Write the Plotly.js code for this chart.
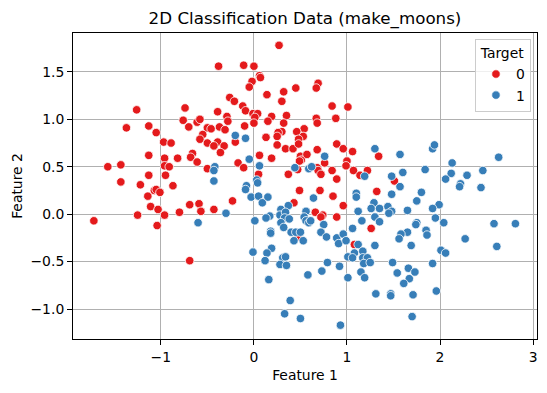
<!DOCTYPE html>
<html>
<head>
<meta charset="utf-8">
<script src="https://cdn.plot.ly/plotly-3.0.1.min.js"></script>
<style>html,body{margin:0;padding:0;background:#fff;}#chart{width:547px;height:393px;}</style>
</head>
<body>
<div id="chart"></div>
<script>
// Target 0 (red)
var class0_x = [-0.38,-0.26,-1.26,-0.74,-0.39,-0.29,-1.37,-1.13,-1.05,-0.76,-0.70,-0.61,-0.58,-0.50,-0.46,-0.37,-0.31,-0.28,-0.55,-0.58,-0.97,-0.89,-0.50,-0.39,-0.32,
0.27,-0.11,0.00,0.06,0.07,-0.02,-0.05,0.69,0.67,0.45,0.32,0.14,0.30,-0.21,0.84,1.01,-0.12,-0.09,-0.01,0.04,0.01,0.19,0.35,0.15,0.32,0.00,-0.10,0.67,0.68,0.88,0.54,0.46,0.53,0.48,0.30,0.26,0.25,0.13,-0.20,0.89,
-0.43,-0.36,-0.66,-0.68,-0.61,-0.82,-0.96,-1.13,-0.96,-0.91,-1.57,-1.43,-0.50,-1.43,-1.13,-0.95,-1.22,-0.87,-1.07,-1.05,-1.01,-1.14,-1.11,-1.03,-0.69,-0.59,-0.57,-0.43,-1.25,-0.96,-0.80,-1.72,-1.04,-0.69,
0.25,0.34,0.42,0.48,0.68,0.96,1.06,1.34,0.06,0.19,0.50,0.51,0.49,0.57,0.76,1.00,0.99,-0.17,-0.11,0.47,0.68,0.69,0.72,0.84,0.89,1.07,1.14,1.22,0.05,0.37,0.49,0.71,0.85,1.32,-0.23,0.43,0.96,0.66,0.74,0.72,0.89,1.26,0.47,1.08,1.51];
var class0_y = [1.56,1.23,1.10,1.12,1.08,1.03,0.91,0.93,0.86,0.99,0.92,0.97,1.00,0.91,0.90,0.92,0.89,0.98,0.84,0.79,0.76,0.75,0.75,0.76,0.72,
1.78,1.57,1.56,1.46,1.44,1.40,1.34,1.38,1.33,1.33,1.29,1.26,1.19,1.19,1.14,1.13,1.14,1.09,1.06,1.06,1.02,1.03,1.04,0.98,0.96,0.96,0.93,1.01,0.96,1.01,0.90,0.87,0.82,0.79,0.87,0.86,0.82,0.81,0.76,0.74,
0.72,0.65,0.64,0.60,0.55,0.59,0.59,0.62,0.51,0.50,0.50,0.52,0.48,0.34,0.41,0.41,0.31,0.30,0.25,0.26,0.23,0.19,0.08,0.05,0.10,0.11,0.03,0.05,-0.01,-0.01,0.02,-0.07,-0.12,-0.49,
0.73,0.69,0.69,0.74,0.68,0.69,0.66,0.61,0.62,0.59,0.61,0.57,0.56,0.63,0.54,0.56,0.51,0.54,0.49,0.47,0.49,0.46,0.42,0.46,0.37,0.46,0.41,0.46,0.42,0.42,0.25,0.25,0.19,0.24,0.14,0.12,0.09,0.02,-0.01,-0.03,-0.03,-0.15,-0.24,-0.32,0.35];
// Target 1 (blue)
var class1_x = [-0.20,-0.09,-0.42,-0.43,-0.43,-0.30,-0.60,1.30,-0.05,0.76,0.06,0.44,0.59,0.62,1.19,0.03,0.04,-0.08,-0.09,0.64,1.10,1.10,-0.03,0.05,0.15,0.09,0.37,0.29,1.29,1.26,1.35,0.56,0.17,0.13,0.28,0.34,0.33,0.38,0.54,0.56,1.30,0.01,0.29,0.59,0.61,1.16,1.35,0.32,0.75,1.12,0.18,0.18,0.40,0.45,0.50,0.43,0.53,0.72,0.78,0.89,0.96,0.91,0.99,1.06,1.12,1.30,0.19,
-0.01,0.14,0.12,0.31,0.34,0.28,0.35,0.16,0.58,0.73,0.79,0.92,1.01,1.08,1.17,1.06,1.17,1.22,1.18,1.25,1.15,1.19,1.01,1.31,0.39,0.33,0.50,0.93,
1.57,1.92,1.94,2.63,2.13,1.84,1.60,1.48,1.57,2.12,2.06,2.29,2.46,2.22,2.21,2.44,1.48,1.80,1.75,1.99,1.92,1.65,1.44,1.48,1.45,1.95,2.04,1.75,1.74,2.58,2.81,1.65,1.58,1.56,1.85,1.86,1.69,2.27,2.61,2.01,
2.06,1.49,1.92,1.54,1.66,1.73,1.67,1.61,1.96,1.47,1.47,1.71,1.70];
var class1_y = [0.83,0.80,0.50,0.46,0.35,0.01,-0.09,0.69,0.58,0.61,0.51,0.49,0.48,0.50,0.40,0.36,0.33,0.30,0.26,0.17,0.22,0.18,0.18,0.19,0.18,0.12,0.09,0.05,0.12,0.06,0.06,0.03,-0.02,-0.04,-0.01,0.02,-0.04,-0.05,-0.03,-0.07,-0.03,-0.07,-0.09,-0.09,-0.07,-0.07,-0.08,-0.14,-0.11,0.03,-0.18,-0.20,-0.19,-0.19,-0.19,-0.28,-0.28,-0.19,-0.24,-0.25,-0.21,-0.31,-0.28,-0.15,-0.32,-0.33,-0.36,
-0.40,-0.41,-0.49,-0.46,-0.45,-0.53,-0.54,-0.69,-0.64,-0.60,-0.51,-0.55,-0.45,-0.41,-0.39,-0.46,-0.46,-0.46,-0.52,-0.51,-0.61,-0.67,-0.67,-0.84,-0.91,-1.05,-1.10,-1.17,
0.63,0.69,0.73,0.60,0.54,0.47,0.44,0.40,0.29,0.43,0.37,0.41,0.46,0.32,0.29,0.28,0.21,0.23,0.14,0.10,0.06,0.04,0.08,0.03,0.01,-0.04,-0.09,-0.09,-0.11,-0.10,-0.10,-0.19,-0.21,-0.26,-0.17,-0.22,-0.33,-0.26,-0.34,-0.38,
-0.41,-0.51,-0.52,-0.62,-0.57,-0.61,-0.68,-0.73,-0.81,-0.84,-0.86,-0.85,-1.08];
var series_names = ["0", "1"];
var legend_title = "Target";
var chart_title = "2D Classification Data (make_moons)";
var x_label = "Feature 1";
var y_label = "Feature 2";
var x_ticks = [-1, 0, 1, 2, 3];
var y_ticks = [-1.0, -0.5, 0.0, 0.5, 1.0, 1.5];

var font = "DejaVu Sans, sans-serif";
var mk = function(color){ return {color: color, size: 8.5, line: {color: "#ffffff", width: 0.8}}; };
var traces = [
  {x: class0_x, y: class0_y, type: "scatter", mode: "markers", name: series_names[0], marker: mk("#e41a1c"), cliponaxis: true},
  {x: class1_x, y: class1_y, type: "scatter", mode: "markers", name: series_names[1], marker: mk("#377eb8"), cliponaxis: true}
];
var axisCommon = {
  showgrid: true, gridcolor: "#b0b0b0", gridwidth: 1, zeroline: false,
  showline: true, linecolor: "#000000", linewidth: 1, mirror: true,
  ticks: "outside", ticklen: 5, tickwidth: 1, tickcolor: "#000000",
  tickfont: {family: font, size: 13.9, color: "#000000"}, automargin: false
};
var layout = {
  width: 547, height: 393,
  margin: {l: 73, r: 9.5, t: 33, b: 54, pad: 0},
  paper_bgcolor: "#ffffff", plot_bgcolor: "#ffffff",
  font: {family: font, size: 13.9, color: "#000000"},
  title: {text: chart_title, font: {family: font, size: 16.7, color: "#000000"}, x: 0.5, xref: "paper", xanchor: "center", y: 1 - 18.5/393, yref: "container", yanchor: "middle"},
  xaxis: Object.assign({}, axisCommon, {range: [-1.944, 3.042], tickmode: "array", tickvals: x_ticks, ticktext: x_ticks.map(function(v){return v < 0 ? "\u2212" + Math.abs(v) : String(v);}),
    title: {text: x_label, font: {family: font, size: 13.9, color: "#000000"}, standoff: 6}}),
  yaxis: Object.assign({}, axisCommon, {range: [-1.316, 1.91], tickmode: "array", tickvals: y_ticks, ticktext: y_ticks.map(function(v){return (v < 0 ? "\u2212" : "") + Math.abs(v).toFixed(1);}),
    title: {text: y_label, font: {family: font, size: 13.9, color: "#000000"}, standoff: 4}}),
  showlegend: true,
  legend: {x: 0.987, y: 0.979, xanchor: "right", yanchor: "top", bgcolor: "rgba(255,255,255,0.8)", bordercolor: "#cccccc", borderwidth: 1,
    font: {family: font, size: 13.9, color: "#000000"},
    title: {text: legend_title, side: "top center", font: {family: font, size: 13.9, color: "#000000"}}}
};
Plotly.newPlot("chart", traces, layout, {displayModeBar: false, staticPlot: true});
</script>
</body>
</html>
